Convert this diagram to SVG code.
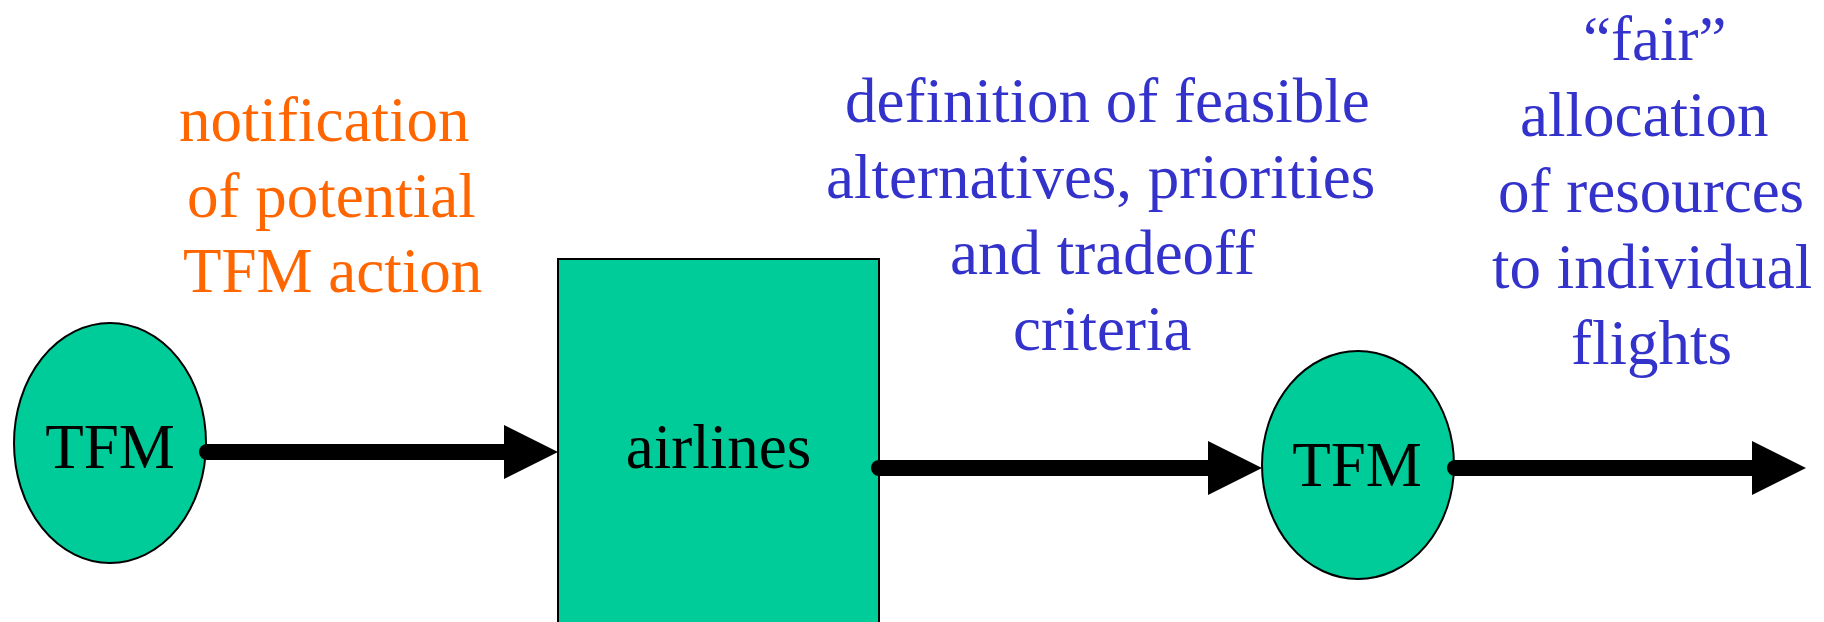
<svg xmlns="http://www.w3.org/2000/svg" width="1824" height="622" viewBox="0 0 1824 622">
  <defs>
    <style>
      .node { fill: #00CC99; stroke: #000000; stroke-width: 2; }
      .label { font-family: "Liberation Serif", "Times New Roman", serif; font-size: 63px; fill: #000000; }
      .note-orange { font-family: "Liberation Serif", "Times New Roman", serif; font-size: 63px; fill: #FF6600; }
      .note-blue { font-family: "Liberation Serif", "Times New Roman", serif; font-size: 63px; fill: #3333CC; }
      .flow { stroke: #000000; stroke-width: 16; stroke-linecap: round; fill: none; marker-end: url(#head); }
    </style>
    <marker id="head" viewBox="0 0 54 54" markerWidth="54" markerHeight="54" refX="0" refY="27" orient="auto" markerUnits="userSpaceOnUse">
      <path d="M0,0 L54,27 L0,54 Z" fill="#000000"/>
    </marker>
  </defs>

  <rect width="1824" height="622" fill="#FFFFFF"/>

  <!-- annotations -->
  <g id="note-notification">
    <text class="note-orange" x="179" y="141">notification</text>
    <text class="note-orange" x="187" y="217">of potential</text>
    <text class="note-orange" x="183" y="292">TFM action</text>
  </g>
  <g id="note-definition">
    <text class="note-blue" x="845" y="122">definition of feasible</text>
    <text class="note-blue" x="826" y="198">alternatives, priorities</text>
    <text class="note-blue" x="950" y="274">and tradeoff</text>
    <text class="note-blue" x="1013" y="350">criteria</text>
  </g>
  <g id="note-allocation">
    <text class="note-blue" x="1583" y="60">“fair”</text>
    <text class="note-blue" x="1520" y="136">allocation</text>
    <text class="note-blue" x="1498" y="212">of resources</text>
    <text class="note-blue" x="1492" y="288">to individual</text>
    <text class="note-blue" x="1571" y="364">flights</text>
  </g>

  <!-- nodes -->
  <g id="tfm-start">
    <ellipse class="node" cx="110" cy="443" rx="96" ry="120"/>
    <text class="label" x="110" y="468" text-anchor="middle">TFM</text>
  </g>
  <g id="airlines">
    <rect class="node" x="558" y="259" width="321" height="380"/>
    <text class="label" x="718.5" y="468" text-anchor="middle">airlines</text>
  </g>
  <g id="tfm-end">
    <ellipse class="node" cx="1358" cy="465" rx="96" ry="114"/>
    <text class="label" x="1357" y="486" text-anchor="middle">TFM</text>
  </g>

  <!-- connectors -->
  <g id="connectors">
    <line class="flow" x1="207" y1="452" x2="504" y2="452"/>
    <line class="flow" x1="879" y1="468" x2="1208" y2="468"/>
    <line class="flow" x1="1455" y1="468" x2="1752" y2="468"/>
  </g>
</svg>
